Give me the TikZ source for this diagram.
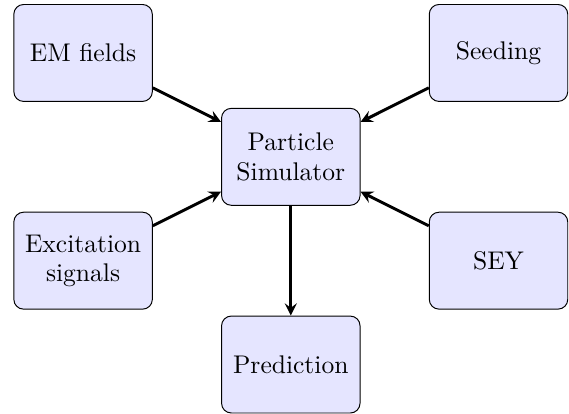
\documentclass[tikz,border=0pt]{standalone}
\usepackage{amsmath}
\usepackage{tikz}

\begin{document}
\begin{tikzpicture}[>=stealth, node distance=3.0cm]
    \tikzstyle{block} = [draw, thin, rounded corners, fill=blue!10, minimum width=2.0cm,
	minimum height=1.4cm, align=center, font=\fontsize{10.5}{12}\selectfont]
	\useasboundingbox (-1.2,0.765) rectangle (7.018,-5.213);
	\path[->, very thick]
		node[block] (sim) at (3.0,-1.5) {Particle\\Simulator}
		node[block, left of=sim, yshift=1.5cm] (em) {EM fields}
		node[block, right of=sim, yshift=1.5cm] (seed) {Seeding}
		node[block, left of=sim, yshift=-1.5cm] (exc) {Excitation\\signals}
		node[block, right of=sim, yshift=-1.5cm] (sey) {SEY}
		node[block, below of=sim] (pred) {Prediction}
		
		(em) edge (sim)
		(seed) edge (sim)
		(exc) edge (sim)
		(sey) edge (sim)
		(sim) edge (pred)
	   ;
\end{tikzpicture}
\end{document}
